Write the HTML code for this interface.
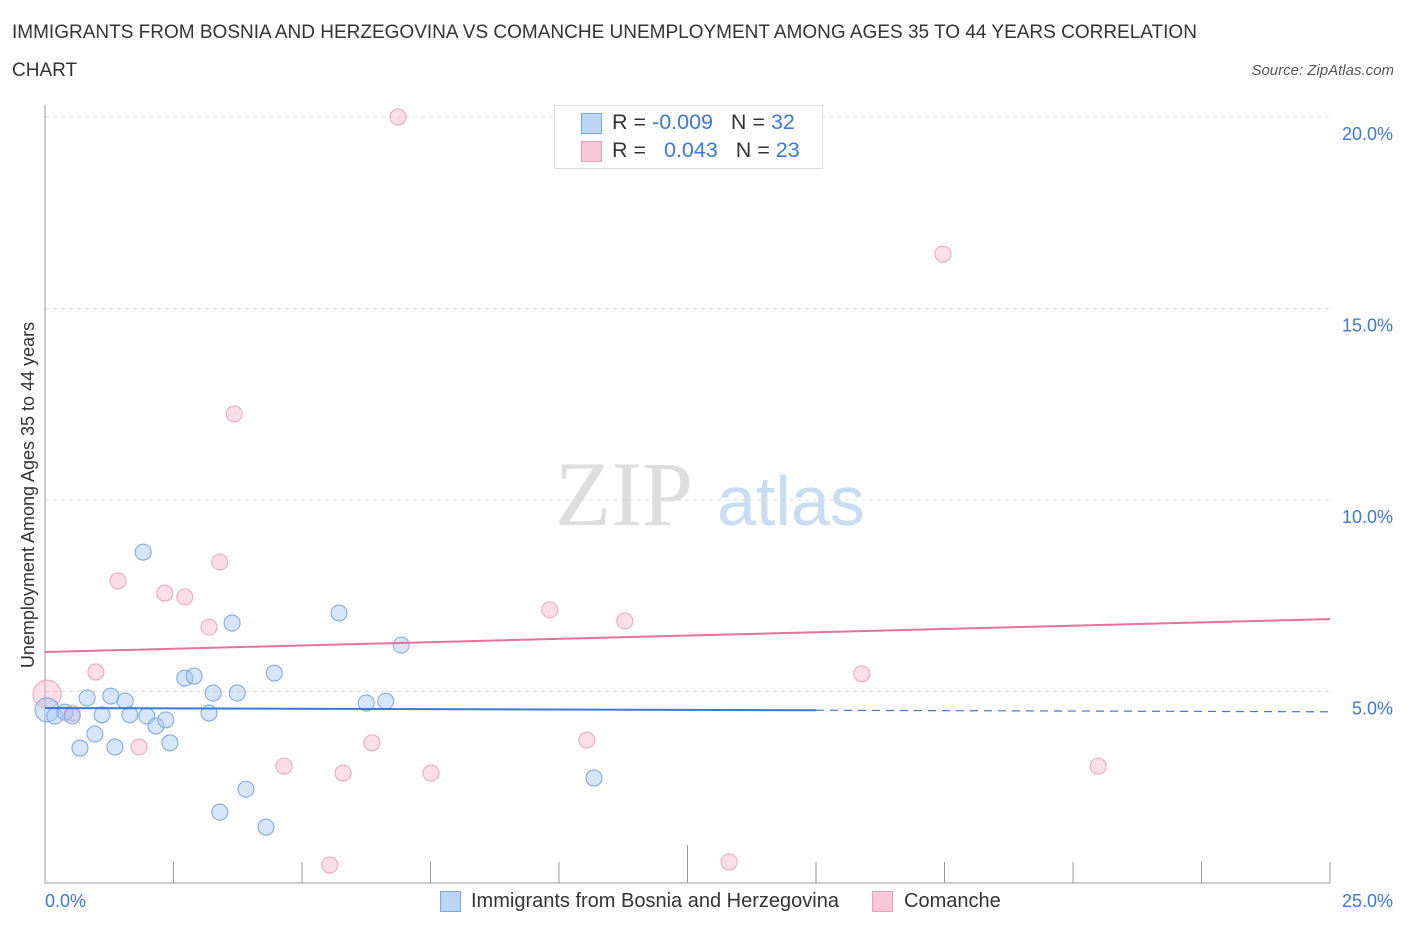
<!DOCTYPE html>
<html><head><meta charset="utf-8"><style>
body{margin:0;width:1406px;height:930px;background:#fff;font-family:"Liberation Sans",sans-serif;overflow:hidden;position:relative}
.t{position:absolute;white-space:nowrap}
</style></head><body>
<div class="t" style="left:12px;top:14px;font-size:19px;color:#333;line-height:38px">IMMIGRANTS FROM BOSNIA AND HERZEGOVINA VS COMANCHE UNEMPLOYMENT AMONG AGES 35 TO 44 YEARS CORRELATION<br>CHART</div>
<div class="t" style="right:12px;top:62px;font-size:15px;font-style:italic;color:#555">Source: ZipAtlas.com</div>
<svg id="c" width="1406" height="930" style="position:absolute;left:0;top:0">
<text x="555" y="525" font-family="Liberation Serif" font-size="92" fill="#ddd">ZIP</text>
<text x="717" y="525" font-family="Liberation Sans" font-size="70" fill="#c8dcf2">atlas</text>
<text transform="translate(34,495) rotate(-90)" text-anchor="middle" font-size="18" fill="#333">Unemployment Among Ages 35 to 44 years</text>
</svg>
<div class="t" style="left:554px;top:105px;width:267px;height:62px;border:1px solid #ddd;background:#fff"></div>
<div class="t" style="left:581px;top:113px;width:19px;height:19px;background:#bcd5f5;border:1px solid #7aa7e0"></div>
<div class="t" style="left:612px;top:110px;font-size:21.5px;color:#333">R = <span style="color:#3b78d8">-0.009</span>&nbsp;&nbsp;&nbsp;N = <span style="color:#3b78d8">32</span></div>
<div class="t" style="left:581px;top:141px;width:19px;height:19px;background:#f8c8d8;border:1px solid #e8a0b8"></div>
<div class="t" style="left:612px;top:138px;font-size:21.5px;color:#333">R = &nbsp;&nbsp;<span style="color:#3b78d8">0.043</span>&nbsp;&nbsp;&nbsp;N = <span style="color:#3b78d8">23</span></div>
<div class="t" style="left:440px;top:891px;width:19px;height:19px;background:#bcd5f5;border:1px solid #7aa7e0"></div>
<div class="t" style="left:471px;top:890px;font-size:20px;color:#333">Immigrants from Bosnia and Herzegovina</div>
<div class="t" style="left:872px;top:891px;width:19px;height:19px;background:#f8c8d8;border:1px solid #e8a0b8"></div>
<div class="t" style="left:904px;top:890px;font-size:20px;color:#333">Comanche</div>
<script>
const yTicks=[5,10,15,20];
const yTickLabels=["5.0%","10.0%","15.0%","20.0%"];
const xTickLabels=["0.0%","25.0%"];
const blueX=[0.04,0.19,0.39,0.53,0.68,0.82,0.97,1.11,1.28,1.36,1.56,1.65,1.91,1.98,2.16,2.35,2.43,2.72,2.90,3.19,3.27,3.40,3.64,3.74,3.91,4.30,4.46,5.72,6.25,6.63,6.93,10.68];
const blueY=[4.52,4.36,4.46,4.36,3.52,4.83,3.89,4.39,4.88,3.55,4.75,4.39,8.64,4.36,4.10,4.26,3.66,5.35,5.40,4.44,4.96,1.85,6.79,4.96,2.45,1.46,5.48,7.05,4.70,4.75,6.21,2.74];
const pinkX=[0.04,0.53,0.99,1.42,1.83,2.33,2.72,3.19,3.40,3.68,4.65,5.54,5.80,6.36,6.87,7.51,9.82,10.54,11.28,13.31,15.89,17.47,20.49];
const pinkY=[4.93,4.44,5.51,7.89,3.55,7.57,7.47,6.68,8.38,12.25,3.05,0.47,2.87,3.66,20.0,2.87,7.13,3.73,6.84,0.55,5.46,16.42,3.05];
const blueTrend=[4.57,4.47];
const pinkTrend=[6.03,6.89];
const X=v=>45+v*51.4, Y=v=>883-v*38.3;
const s=document.getElementById('c'),NS='http://www.w3.org/2000/svg';
function mk(t,a){const e=document.createElementNS(NS,t);for(const k in a)e.setAttribute(k,a[k]);s.appendChild(e);return e;}
yTicks.forEach((v,i)=>{
 const g=mk('line',{x1:45,x2:1330,y1:Y(v),y2:Y(v),stroke:'#ddd','stroke-dasharray':'4,4'});
 
 
 const t=mk('text',{x:1393,y:Y(v)+23,'text-anchor':'end','font-size':18,fill:'#3b78d8'});t.textContent=yTickLabels[i];
 
 
});
const ax=mk('line',{x1:45,x2:45,y1:105,y2:883,stroke:'#999'});


const bx=mk('line',{x1:45,x2:1330,y1:883,y2:883,stroke:'#999'});


for(let i=0;i<=10;i++){const x=45+i*128.5;const tk=mk('line',{x1:x,x2:x,y1:883,y2:i==5?845:862,stroke:'#999'});
 
 }
[[0,'start',45],[1,'end',1393]].forEach(([i,a,x])=>{const t=mk('text',{x:x,y:907,'text-anchor':a,'font-size':18,fill:'#3b78d8'});t.textContent=xTickLabels[i];
 
 });
pinkX.forEach((x,i)=>{const c=mk('circle',{cx:X(x),cy:Y(pinkY[i]),r:i==0?14:8,fill:'rgba(246,182,203,0.45)',stroke:'#eba3bc','stroke-width':1});
 
 });
blueX.forEach((x,i)=>{const c=mk('circle',{cx:X(x),cy:Y(blueY[i]),r:i==0?12:8,fill:'rgba(163,197,240,0.45)',stroke:'#78a5df','stroke-width':1});
 
 });
const bt=v=>blueTrend[0]+(blueTrend[1]-blueTrend[0])*v/25;
const l1=mk('line',{x1:X(0),y1:Y(bt(0)),x2:X(15),y2:Y(bt(15)),stroke:'#3b78d8','stroke-width':2});


const l2=mk('line',{x1:X(15),y1:Y(bt(15)),x2:X(25),y2:Y(bt(25)),stroke:'#3b78d8','stroke-width':1.2,'stroke-dasharray':'8,6'});


const l3=mk('line',{x1:X(0),y1:Y(pinkTrend[0]),x2:X(25),y2:Y(pinkTrend[1]),stroke:'#e8709a','stroke-width':2});


</script>
</body></html>
